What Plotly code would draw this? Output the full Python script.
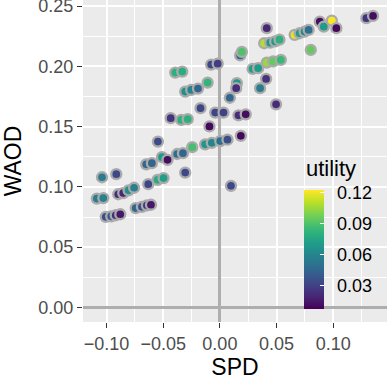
import plotly.graph_objects as go

# values
spd = [-0.104, -0.0914, -0.1086, -0.1029, -0.0897, -0.0853, -0.0806, -0.0757, -0.0632, -0.055,
       -0.0497, -0.065, -0.060, -0.0511, -0.0462, -0.0377, -0.0326, -0.0244, -0.013, -0.0071,
       0.0003, 0.0067, -0.0547, -0.0306, 0.0098, -0.1007, -0.0959, -0.0919, -0.0879, -0.0743,
       -0.0688, -0.0644, -0.0608, -0.0434, -0.0341, -0.0284, -0.0171, -0.0092, -0.0041, 0.0032,
       -0.0306, -0.0253, -0.0193, -0.0108, -0.0394, -0.0332, -0.0077, -0.0019, 0.0088, 0.015,
       0.0144, 0.0164, 0.0228, 0.0185, 0.0179, 0.0194, 0.0289, 0.0338, 0.0414, 0.047,
       0.0538, 0.0408, 0.0355, 0.0496, 0.0414, 0.0391, 0.0444, 0.0488, 0.0526, 0.066,
       0.0704, 0.0748, 0.0783, 0.0802, 0.0882, 0.0917, 0.0988, 0.1028, 0.1293, 0.1352]
waod = [0.108, 0.1106, 0.0903, 0.0907, 0.0939, 0.0949, 0.0972, 0.0993, 0.1023, 0.1059,
        0.1073, 0.1187, 0.1197, 0.1247, 0.1225, 0.1273, 0.128, 0.133, 0.1353, 0.1366,
        0.138, 0.1392, 0.1376, 0.1119, 0.1009, 0.0752, 0.0756, 0.0765, 0.0773, 0.0824,
        0.0835, 0.0847, 0.0852, 0.157, 0.1556, 0.1562, 0.1653, 0.1502, 0.1617, 0.1617,
        0.1791, 0.1805, 0.1816, 0.1866, 0.1949, 0.1957, 0.2015, 0.2023, 0.174, 0.1861,
        0.1819, 0.1594, 0.1602, 0.1424, 0.2091, 0.212, 0.1979, 0.1985, 0.2032, 0.2041,
        0.2054, 0.1896, 0.1819, 0.1685, 0.2317, 0.2192, 0.2197, 0.2207, 0.2222, 0.2261,
        0.2275, 0.2289, 0.2303, 0.2137, 0.2372, 0.233, 0.238, 0.2317, 0.24, 0.2419]
utility = [0.055, 0.033, 0.055, 0.058, 0.022, 0.02, 0.065, 0.058, 0.032, 0.078,
           0.072, 0.045, 0.045, 0.07, 0.012, 0.048, 0.045, 0.088, 0.068, 0.06,
           0.05, 0.035, 0.033, 0.033, 0.033, 0.035, 0.04, 0.022, 0.015, 0.045,
           0.036, 0.025, 0.015, 0.025, 0.08, 0.08, 0.032, 0.01, 0.032, 0.03,
           0.065, 0.06, 0.045, 0.082, 0.08, 0.078, 0.032, 0.028, 0.045, 0.068,
           0.022, 0.022, 0.012, 0.01, 0.045, 0.09, 0.072, 0.07, 0.105, 0.095,
           0.085, 0.025, 0.055, 0.022, 0.02, 0.11, 0.068, 0.07, 0.08, 0.118,
           0.07, 0.06, 0.05, 0.095, 0.012, 0.07, 0.122, 0.01, 0.025, 0.012]

cb_ticks = [0.03, 0.06, 0.09, 0.12]
cb_labels = ["0.03", "0.06", "0.09", "0.12"]

fig = go.Figure()
fig.add_trace(go.Scatter(
    x=spd, y=waod, mode="markers", showlegend=False,
    marker=dict(size=10, color=utility, colorscale="Viridis", cmin=0.0075, cmax=0.1226,
                line=dict(color="#AAAAAA", width=2.3),
                colorbar=dict(x=0.727, xanchor="left", xpad=0,
                              y=0.04, yanchor="bottom", ypad=0,
                              lenmode="pixels", len=119, thickness=20,
                              outlinewidth=0, tickvals=cb_ticks,
                              ticktext=["\u2002" + t for t in cb_labels],
                              ticks="inside", tickcolor="white", ticklen=4,
                              tickfont=dict(size=18, color="black")))))

# legend title
fig.add_annotation(text="utility", xref="paper", yref="paper", x=0.727, y=0.4767,
                   xanchor="left", yanchor="middle", showarrow=False,
                   font=dict(size=22, color="black"))

axis_style = dict(showgrid=True, gridcolor="white", gridwidth=1.8, automargin=False,
                  zeroline=True, zerolinecolor="#AEAEAE", zerolinewidth=2.6,
                  ticks="outside", ticklen=5, tickwidth=1.4, tickcolor="#333333",
                  tickfont=dict(size=18, color="#4D4D4D"), showline=False,
                  ticklabeloverflow="allow",
                  tickformat=".2f", dtick=0.05, tick0=0,
                  minor=dict(dtick=0.025, tick0=0, showgrid=True, gridcolor="white", gridwidth=0.9, ticks=""))

fig.update_xaxes(axis_style, range=[-0.1208, 0.1475],
                 title=dict(text="SPD", font=dict(size=23, color="black"), standoff=2))
fig.update_yaxes(axis_style, range=[-0.0121, 0.2551],
                 title=dict(text="WAOD", font=dict(size=23, color="black"), standoff=12))

fig.update_layout(width=388, height=382, margin=dict(l=83, r=1, t=0, b=60, autoexpand=False),
                  plot_bgcolor="#EBEBEB", paper_bgcolor="white",
                  font=dict(family="Liberation Sans, Arial, sans-serif"))

# page body has an 8px default margin; drop it so the figure sits at the corner
fig.write_html("out.html", config={"displayModeBar": False},
               post_script="document.body.style.margin='0px';")
